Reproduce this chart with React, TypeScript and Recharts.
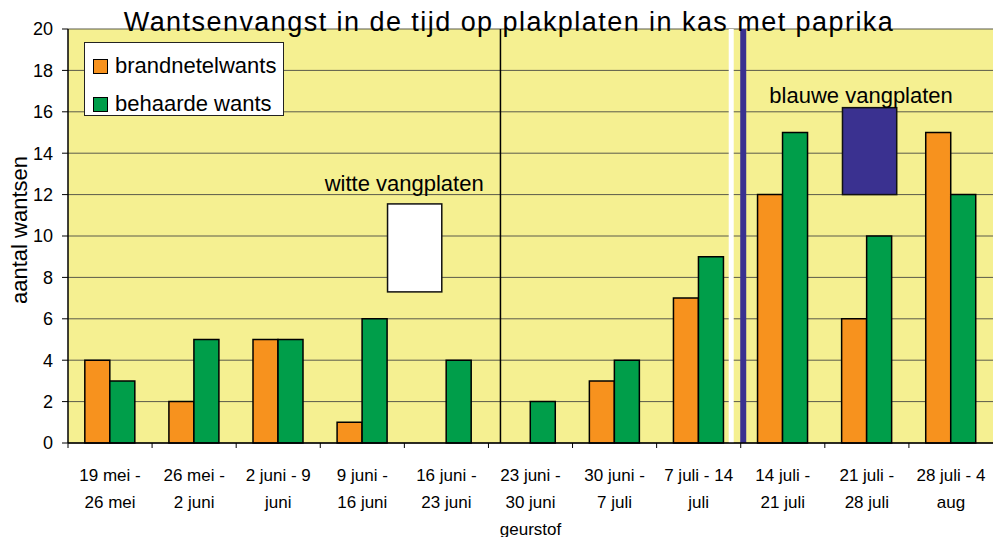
import React from "react";
import {
  BarChart,
  Bar,
  XAxis,
  YAxis,
  CartesianGrid,
  Legend,
  ReferenceArea,
  ReferenceLine,
} from "recharts";

const periods = [
  "19 mei -\n26 mei",
  "26 mei -\n2 juni",
  "2 juni - 9\njuni",
  "9 juni -\n16 juni",
  "16 juni -\n23 juni",
  "23 juni -\n30 juni\ngeurstof",
  "30 juni -\n7 juli",
  "7 juli - 14\njuli",
  "14 juli -\n21 juli",
  "21 juli -\n28 juli",
  "28 juli - 4\naug",
];
const brandnetelwants = [4, 2, 5, 1, 0, 0, 3, 7, 12, 6, 15];
const behaardeWants = [3, 5, 5, 6, 4, 2, 4, 9, 15, 10, 12];
const yTicks = [0, 2, 4, 6, 8, 10, 12, 14, 16, 18, 20];

// the two kinds of sticky plates, drawn as boxes in the plot
const plateLabels = ["witte vangplaten", "blauwe vangplaten"];
const platePeriods = [periods[4], periods[9]];
const plateFrom = [7.3, 12];
const plateTo = [11.55, 16.2];

const FONT = '"Liberation Sans", Arial, Helvetica, sans-serif';
const ORANGE = "#F7921E";
const GREEN = "#009E4A";
const YELLOW = "#F5F091";
const BLUE = "#3A3190";

// box shift/width as fraction of the category band, text offset in px
const plateStyle = [
  { fill: "#ffffff", shift: -0.2, width: 0.645, textDx: -10.5, textDy: -13 },
  { fill: BLUE, shift: 0.21, width: 0.645, textDx: -8.5, textDy: -5 },
];

const data = periods.map((p, i) => ({
  period: p,
  brandnetelwants: brandnetelwants[i],
  behaarde: behaardeWants[i],
}));

const series = [
  { key: "brandnetelwants", name: "brandnetelwants", color: ORANGE },
  { key: "behaarde", name: "behaarde wants", color: GREEN },
];

function PeriodTick(props: any) {
  const { x, y, payload } = props;
  const lines = String(payload.value).split("\n");
  const half = payload.offset ?? 42;
  return (
    <g>
      <line x1={x - half} x2={x - half} y1={y} y2={y + 5} stroke="#000" strokeWidth={1} />
      <text x={x} y={y} textAnchor="middle" fontSize={17} fontFamily={FONT} fill="#000">
        {lines.map((l, i) => (
          <tspan key={i} x={x} dy={i === 0 ? 37.5 : 27}>
            {l}
          </tspan>
        ))}
      </text>
    </g>
  );
}

function LegendBox() {
  return (
    <div
      style={{
        position: "relative",
        width: 200,
        height: 74,
        background: "#fff",
        border: "1px solid #222",
        boxSizing: "border-box",
        fontFamily: FONT,
        fontSize: 22,
        color: "#000",
      }}
    >
      {series.map((s, i) => (
        <div
          key={s.key}
          style={{
            position: "absolute",
            left: 8,
            top: 8 + i * 38,
            height: 30,
            display: "flex",
            alignItems: "center",
            whiteSpace: "nowrap",
          }}
        >
          <span
            style={{
              display: "inline-block",
              width: 13,
              height: 13,
              background: s.color,
              border: "1px solid #000",
              marginRight: 7,
            }}
          />
          {s.name}
        </div>
      ))}
    </div>
  );
}

function plateShape(i: number) {
  return (p: any) => {
    const st = plateStyle[i];
    const x = p.x + p.width * st.shift;
    const w = p.width * st.width;
    return (
      <g>
        <rect x={x} y={p.y} width={w} height={p.height} fill={st.fill} stroke="#111" strokeWidth={1.5} />
        <text
          x={x + w / 2 + st.textDx}
          y={p.y + st.textDy}
          textAnchor="middle"
          fontSize={22}
          fontFamily={FONT}
          fill="#000"
        >
          {plateLabels[i]}
        </text>
      </g>
    );
  };
}

export default function App() {
  return (
    <div style={{ position: "relative", width: 993, height: 537, fontFamily: FONT }}>
      <style>{`body{margin:0}`}</style>
      <BarChart
        width={993}
        height={537}
        data={data}
        margin={{ top: 29, right: 0, bottom: 0, left: 0 }}
        barCategoryGap="20%"
        barGap={0}
      >
        <CartesianGrid vertical={false} stroke="#5a5a4a" fill={YELLOW} fillOpacity={1} />
        <XAxis
          dataKey="period"
          height={94}
          interval={0}
          tickSize={0}
          tickMargin={0}
          tick={<PeriodTick />}
          axisLine={{ stroke: "#000", strokeWidth: 1.5 }}
          tickLine={false}
        />
        <YAxis
          width={68}
          domain={[0, 20]}
          ticks={yTicks}
          interval={0}
          tickSize={6}
          tickMargin={9}
          tick={{ fontSize: 18, fill: "#000", fontFamily: FONT }}
          tickLine={{ stroke: "#000" }}
          axisLine={{ stroke: "#000", strokeWidth: 1.5 }}
          label={() => (
            <text
              x={27}
              y={230}
              transform="rotate(-90 27 230)"
              textAnchor="middle"
              fontSize={22}
              fontFamily={FONT}
              fill="#000"
            >
              aantal wantsen
            </text>
          )}
        />
        <Legend
          layout="vertical"
          align="center"
          verticalAlign="middle"
          wrapperStyle={{ left: 84, top: 42, width: 200 }}
          content={() => <LegendBox />}
        />
        {series.map((s) => (
          <Bar
            key={s.key}
            dataKey={s.key}
            name={s.name}
            fill={s.color}
            stroke="#000"
            strokeWidth={1.5}
            isAnimationActive={false}
          />
        ))}
        <ReferenceLine
          x={periods[5]}
          position="start"
          shape={(p: any) => (
            <line x1={p.x1 + 12} x2={p.x2 + 12} y1={p.y1} y2={p.y2} stroke="#000" strokeWidth={1.5} />
          )}
        />
        <ReferenceLine
          x={periods[8]}
          position="start"
          shape={(p: any) => (
            <g>
              <line x1={p.x1 - 9.5} x2={p.x2 - 9.5} y1={p.y1} y2={p.y2} stroke="#fff" strokeWidth={5} />
              <line x1={p.x1 + 2.5} x2={p.x2 + 2.5} y1={p.y1} y2={p.y2} stroke={BLUE} strokeWidth={6} />
            </g>
          )}
        />
        {plateLabels.map((l, i) => (
          <ReferenceArea
            key={l}
            x1={platePeriods[i]}
            x2={platePeriods[i]}
            y1={plateFrom[i]}
            y2={plateTo[i]}
            shape={plateShape(i)}
          />
        ))}
      </BarChart>
      <div
        style={{
          position: "absolute",
          left: 0,
          width: 1018,
          top: 9,
          textAlign: "center",
          fontSize: 27,
          lineHeight: "27px",
          letterSpacing: 1.45,
          color: "#000",
          whiteSpace: "nowrap",
        }}
      >
        Wantsenvangst in de tijd op plakplaten in kas met paprika
      </div>
    </div>
  );
}
